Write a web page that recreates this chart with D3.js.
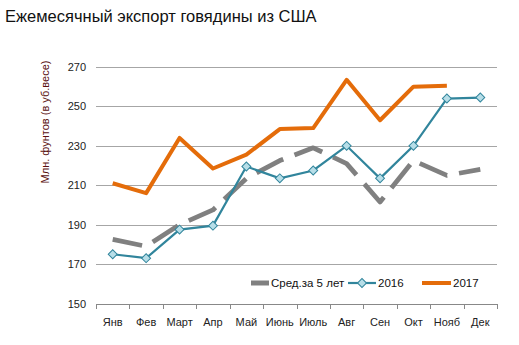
<!DOCTYPE html>
<html><head><meta charset="utf-8">
<script src="https://cdn.jsdelivr.net/npm/d3@7"></script>
<style>body{margin:0;background:#fff}svg{display:block}text{font-family:"Liberation Sans",Arial,sans-serif}</style>
</head><body><svg id="c" width="519" height="345"></svg>
<script>
const months = ["Янв","Фев","Март","Апр","Май","Июнь","Июль","Авг","Сен","Окт","Нояб","Дек"];
const avg5 = [182.5,179,190,197.5,213.5,222.5,229,221,201.5,222.5,215,218];
const y2016 = [175,173,187.5,189.5,219.5,213.5,217.5,230,213.5,230,254,254.5];
const y2017 = [211,206,234,218.5,225.5,238.5,239,263.5,243,260,260.5,null];
const yTicks = [150,170,190,210,230,250,270];

const svg = d3.select("#c");
const m = {l:96, r:497, t:67, b:303.5};
const x = d3.scaleBand().domain(months).range([m.l, m.r]);
const y = d3.scaleLinear().domain([150,270]).range([m.b, m.t]);

svg.append("text").attr("x",5).attr("y",22).attr("font-size",16.5).attr("fill","#111").text("Ежемесячный экспорт говядины из США");

// grid
svg.append("g").selectAll("line").data(yTicks.filter(d=>d>150)).join("line")
  .attr("x1",m.l).attr("x2",m.r).attr("y1",d=>Math.round(y(d))+0.5).attr("y2",d=>Math.round(y(d))+0.5)
  .attr("stroke","#a6a6a6").attr("stroke-width",1);

const yAxis = svg.append("g").attr("transform",`translate(${m.l},0)`)
  .call(d3.axisLeft(y).tickValues(yTicks).tickSize(0).tickPadding(10));
yAxis.select(".domain").remove();
yAxis.selectAll("text").attr("font-size",11).attr("fill","#222").attr("font-family","Liberation Sans, Arial, sans-serif");

const xAxis = svg.append("g").attr("transform",`translate(0,${Math.round(m.b)+0.5})`)
  .call(d3.axisBottom(x).tickSize(0).tickPadding(14));
xAxis.select(".domain").attr("stroke","#888").attr("d",`M${m.l},0H${m.r}`);
xAxis.selectAll("text").attr("font-size",11).attr("fill","#222").attr("font-family","Liberation Sans, Arial, sans-serif");
svg.append("g").selectAll("line").data(d3.range(months.length+1)).join("line")
  .attr("x1",i=>Math.round(m.l + i*x.step())+0.5).attr("x2",i=>Math.round(m.l + i*x.step())+0.5)
  .attr("y1",Math.round(m.b)).attr("y2",Math.round(m.b)+5).attr("stroke","#888");

svg.append("text").attr("transform","translate(49,122) rotate(-90)").attr("text-anchor","middle")
  .attr("font-size",11).attr("fill","#5a0f0f").text("Млн. фунтов (в уб.весе)");

const cx = d => x(d) + x.bandwidth()/2;
const line = arr => d3.line().defined(d=>d[1]!=null).x(d=>cx(d[0])).y(d=>y(d[1]))(months.map((mm,i)=>[mm,arr[i]]));

svg.append("path").attr("d",line(avg5)).attr("fill","none").attr("stroke","#808080").attr("stroke-width",4.8)
  .attr("stroke-dasharray","30,12").attr("stroke-linejoin","round");
svg.append("path").attr("d",line(y2017)).attr("fill","none").attr("stroke","#e46c0a").attr("stroke-width",4)
  .attr("stroke-linejoin","round");
svg.append("path").attr("d",line(y2016)).attr("fill","none").attr("stroke","#31859c").attr("stroke-width",2.2);
svg.append("g").selectAll("path").data(months.map((mm,i)=>[mm,y2016[i]])).join("path")
  .attr("transform",d=>`translate(${cx(d[0])},${y(d[1])}) rotate(45)`)
  .attr("d",d3.symbol().type(d3.symbolSquare).size(40)())
  .attr("fill","#b7dee8").attr("stroke","#31859c").attr("stroke-width",1);

// legend
const lg = svg.append("g").attr("transform","translate(0,283)");
lg.append("line").attr("x1",251).attr("x2",269).attr("stroke","#808080").attr("stroke-width",5);
lg.append("text").attr("x",271).attr("y",4).attr("font-size",11.5).attr("fill","#111").text("Сред.за 5 лет");
lg.append("line").attr("x1",348).attr("x2",376).attr("stroke","#31859c").attr("stroke-width",2.2);
lg.append("path").attr("transform","translate(362,0) rotate(45)").attr("d",d3.symbol().type(d3.symbolSquare).size(40)())
  .attr("fill","#b7dee8").attr("stroke","#31859c");
lg.append("text").attr("x",378).attr("y",4).attr("font-size",11.5).attr("fill","#111").text("2016");
lg.append("line").attr("x1",422).attr("x2",451).attr("stroke","#e46c0a").attr("stroke-width",4);
lg.append("text").attr("x",453).attr("y",4).attr("font-size",11.5).attr("fill","#111").text("2017");
</script></body></html>
